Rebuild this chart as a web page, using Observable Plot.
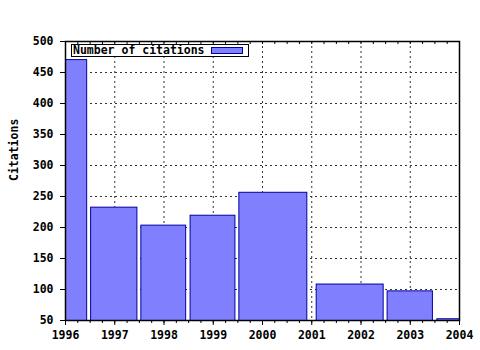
<!DOCTYPE html>
<html><head><meta charset="utf-8">
<script src="https://cdn.jsdelivr.net/npm/d3@7"></script>
<script src="https://cdn.jsdelivr.net/npm/@observablehq/plot@0.6"></script>
<style>
body{margin:0;background:#fff;}
#wrap{position:relative;width:480px;height:350px;}
#legend{position:absolute;left:71px;top:44px;width:176px;height:11px;border:1px solid #000;background:#fff;
 font:bold 11.5px "DejaVu Sans Mono",monospace;line-height:11px;}
#legend span.t{position:absolute;left:1px;top:0px;}
#legend span.s{position:absolute;left:139px;top:2px;width:30px;height:5px;background:#8080ff;border:1px solid #0000a0;}
</style></head>
<body><div id="wrap"><div id="legend"><span class="t">Number of citations</span><span class="s"></span></div></div>
<script>
const seriesName = "Number of citations";
const barStart = [1995.5, 1996.52, 1997.54, 1998.54, 1999.53, 2001.10, 2002.54, 2003.55];
const barEnd   = [1996.44, 1997.46, 1998.45, 1999.45, 2000.91, 2002.46, 2003.46, 2004.45];
const citations = [470, 232, 203, 219, 256, 108, 97, 52];
const yearTicks = [1996, 1997, 1998, 1999, 2000, 2001, 2002, 2003, 2004];
const yTicks = [50, 100, 150, 200, 250, 300, 350, 400, 450, 500];

const bars = citations.map((v, i) => ({x1: barStart[i], x2: barEnd[i], y: v}));
const minorTicks = d3.range(1996, 2004.001, 0.25);
const font = "DejaVu Sans Mono";
const frameH = 279;

const chart = Plot.plot({
  width: 480, height: 350,
  marginLeft: 65, marginRight: 21, marginTop: 41, marginBottom: 30,
  style: {fontFamily: font, fontSize: "11.5px", fontWeight: "bold", background: "#fff"},
  x: {domain: [1996, 2004]},
  y: {domain: [50, 500]},
  marks: [
    Plot.gridY(yTicks.slice(1, -1), {stroke: "#333", strokeOpacity: 1, strokeDasharray: "2,3"}),
    Plot.gridX(yearTicks.slice(1, -1), {stroke: "#333", strokeOpacity: 1, strokeDasharray: "2,3"}),
    Plot.rectY(bars, {x1: "x1", x2: "x2", y1: 0, y2: "y", fill: "#8080ff", stroke: "#0000a0", strokeWidth: 1, clip: true}),
    Plot.frame({stroke: "#000", strokeWidth: 1.5}),
    Plot.tickX(minorTicks, {x: d => d, stroke: "#000", insetBottom: frameH - 3}),
    Plot.axisX(minorTicks, {tickSize: 3, tickFormat: () => "", stroke: "#000"}),
    Plot.axisX(yearTicks, {tickSize: 5, tickPadding: 5, tickFormat: d => String(d), fill: "#000", fontWeight: "bold", label: null}),
    Plot.axisY(yTicks, {tickSize: 5, tickPadding: 7, tickFormat: d => String(d), fill: "#000", fontWeight: "bold", label: null}),
    Plot.text(["Citations"], {frameAnchor: "left", dx: -51, rotate: -90, fill: "#000", fontWeight: "bold", fontSize: 11.5, text: d => d})
  ]
});
document.getElementById("wrap").prepend(chart);
</script></body></html>
